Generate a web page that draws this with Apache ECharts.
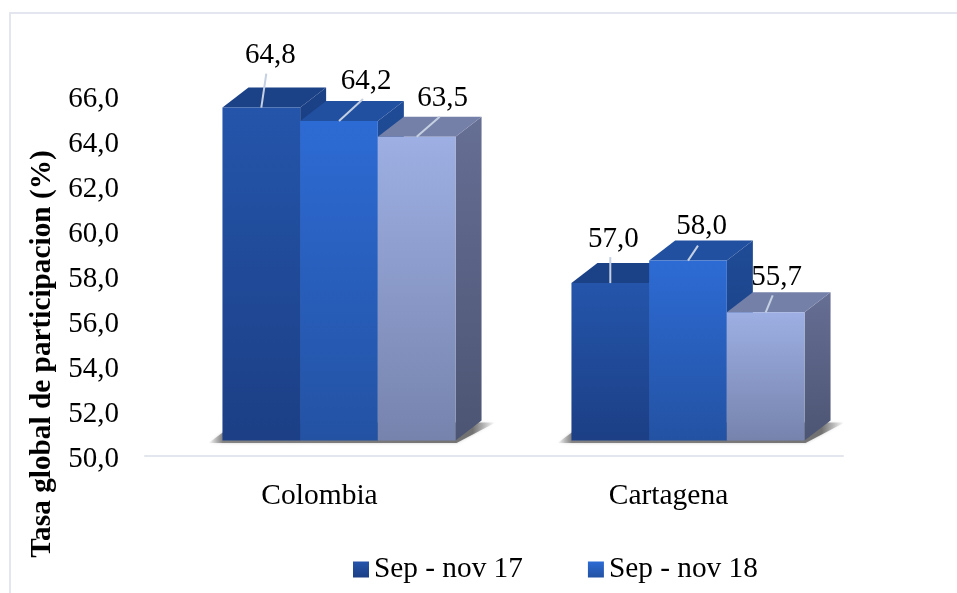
<!DOCTYPE html>
<html><head><meta charset="utf-8">
<style>html,body{margin:0;padding:0;background:#fff}#c{width:957px;height:593px}</style>
<script src="https://cdn.jsdelivr.net/npm/echarts@6/dist/echarts.min.js"></script>
</head><body><div id="c"></div>
<script>
const categories = ['Colombia', 'Cartagena'];
const seriesNames = ['Sep - nov 17', 'Sep - nov 18', 'Serie 3'];
const valuesA = [64.8, 57.0];
const valuesB = [64.2, 58.0];
const valuesC = [63.5, 55.7];
const legendNames = ['Sep - nov 17', 'Sep - nov 18'];
const yTitle = 'Tasa global de participacion (%)';

// layout / styling (separate from the data)
const FONT = '"Liberation Serif","Times New Roman",serif';
const BAR_W = 77.7, DX = 26, DY = -20;
const FLOOR_X = 19.5, FLOOR_Y = -15.4; // the 3D floor is shifted from the axis
const labelOffset = [
  [[9, -52, 5, -34], [3, -44, 0, -26]],
  [[27, -40, 24, -22], [13.5, -34, 10, -15]],
  [[26, -38, 23, -20], [11, -35, 7, -17]]
];
function grad(a, b) {
  return { type: 'linear', x: 0, y: 0, x2: 0, y2: 1, colorStops: [{ offset: 0, color: a }, { offset: 1, color: b }] };
}
const looks = [
  { front: grad('#2455ab', '#1c3f85'), top: '#1b4187', side: grad('#1b4187', '#16346f') },
  { front: grad('#2d6bd4', '#2352a3'), top: '#2150a0', side: grad('#1f4b96', '#193d7c') },
  { front: grad('#9dafe3', '#7683ad'), top: '#7580a9', side: grad('#666f94', '#4c5573') }
];

function barRenderer(s) {
  return function (params, api) {
    const i = params.dataIndex;
    const c = api.coord([i, api.value(1)]);
    const base = api.coord([i, 50]);
    const x0 = base[0] + FLOOR_X + (s - 1.5) * BAR_W, x1 = x0 + BAR_W;
    const yt = c[1] + FLOOR_Y, yb = base[1] + FLOOR_Y;
    const look = looks[s];
    const off = labelOffset[s][i];
    const cx = (x0 + x1) / 2;
    return {
      type: 'group',
      children: [
        { type: 'polygon', shape: { points: [[x1, yt], [x1 + DX, yt + DY], [x1 + DX, yb + DY], [x1, yb]] }, style: { fill: look.side } },
        { type: 'polygon', shape: { points: [[x0, yt], [x0 + DX, yt + DY], [x1 + DX, yt + DY], [x1, yt]] }, style: { fill: look.top } },
        { type: 'rect', shape: { x: x0, y: yt, width: BAR_W, height: yb - yt }, style: { fill: look.front } },
        { type: 'line', shape: { x1: cx, y1: yt, x2: cx + off[2], y2: yt + off[3] }, style: { stroke: '#c5d0e2', lineWidth: 2 } },
        { type: 'text', x: cx + off[0], y: yt + off[1], style: { text: api.value(1).toFixed(1).replace('.', ','), font: '29px ' + FONT, fill: '#000', align: 'center', verticalAlign: 'middle' } }
      ]
    };
  };
}
const shadowFill = {
  type: 'linear', x: 0, y: 0, x2: 1, y2: 0,
  colorStops: [
    { offset: 0, color: 'rgba(130,130,130,0)' },
    { offset: 0.05, color: 'rgba(110,110,110,0.8)' },
    { offset: 0.92, color: 'rgba(90,90,90,0.8)' },
    { offset: 1, color: 'rgba(130,130,130,0)' }
  ]
};
function shadowRenderer(params, api) {
  const i = params.dataIndex;
  const base = api.coord([i, 50]);
  const xl = base[0] + FLOOR_X - 1.5 * BAR_W, xr = base[0] + FLOOR_X + 1.5 * BAR_W;
  const yb = base[1] + FLOOR_Y;
  return {
    type: 'polygon',
    shape: { points: [[xl - 14, yb + 2.5], [xr + 1, yb + 2.5], [xr + DX + 14, yb + DY + 2], [xl + 14, yb + DY + 2]] },
    style: { fill: shadowFill, shadowBlur: 3, shadowColor: 'rgba(120,120,120,0.45)' }
  };
}
const dataSets = [valuesA, valuesB, valuesC];
const chart = echarts.init(document.getElementById('c'), null, { renderer: 'canvas' });
chart.setOption({
  animation: false,
  backgroundColor: '#fff',
  graphic: [{
    type: 'polyline', silent: true, shape: { points: [[10, 593], [10, 13], [957, 13]] },
    style: { fill: 'none', stroke: '#e3e6ee', lineWidth: 2 }
  }],
  grid: { left: 145, right: 114, top: 96, bottom: 137, containLabel: false },
  legend: {
    data: legendNames.map(n => ({ name: n, icon: 'rect' })),
    left: 348, top: 550, itemWidth: 16, itemHeight: 16, itemGap: 65,
    textStyle: { fontFamily: FONT, fontSize: 29.3, color: '#000' }
  },
  xAxis: {
    type: 'category', data: categories,
    axisLine: { lineStyle: { color: '#e4e6ee', width: 2 } },
    axisTick: { show: false },
    axisLabel: { fontFamily: FONT, fontSize: 29.5, color: '#000', margin: 25 }
  },
  yAxis: {
    type: 'value', min: 50, max: 66, interval: 2,
    name: yTitle, nameLocation: 'middle', nameGap: 87, nameRotate: 90,
    nameTextStyle: { fontFamily: FONT, fontSize: 29.3, fontWeight: 'bold', color: '#000', padding: [0, 156, 0, 0] },
    axisLine: { show: false }, axisTick: { show: false }, splitLine: { show: false },
    axisLabel: { fontFamily: FONT, fontSize: 29, color: '#000', margin: 26, verticalAlign: 'top', lineHeight: 6, formatter: v => v.toFixed(1).replace('.', ',') }
  },
  series: [
    { type: 'custom', name: 'sombra', z: 1, silent: true, renderItem: shadowRenderer, encode: { x: 0, y: 1 }, data: categories.map((c, i) => [i, 50]) }
  ].concat(dataSets.map((vals, s) => ({
    type: 'custom', name: seriesNames[s], z: 2 + s,
    itemStyle: { color: looks[s].front },
    renderItem: barRenderer(s),
    encode: { x: 0, y: 1 },
    data: vals.map((v, i) => [i, v])
  })))
});
</script></body></html>
